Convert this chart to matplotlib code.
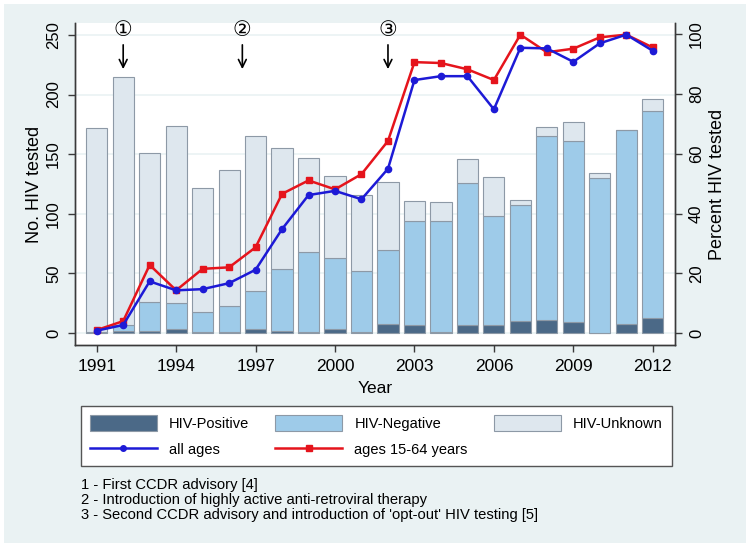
import matplotlib
matplotlib.use("Agg")
import matplotlib.pyplot as plt
from matplotlib.patches import Rectangle, Patch
from matplotlib.lines import Line2D

plt.rcParams['font.family'] = ['Liberation Sans', 'DejaVu Sans']

years = list(range(1991, 2013))
hiv_positive = [1, 2, 2, 3, 1, 1, 3, 2, 1, 3, 1, 8, 7, 1, 7, 7, 10, 11, 9, 0, 8, 13]
hiv_negative = [0, 5, 24, 22, 17, 22, 32, 52, 67, 60, 51, 62, 87, 93, 119, 91, 97, 154, 152, 130, 162, 173]
hiv_unknown = [171, 208, 125, 149, 104, 114, 130, 101, 79, 69, 64, 57, 17, 16, 20, 33, 5, 8, 16, 4, 0, 10]
pct_all_ages = [0.8, 2.7, 17.3, 14.3, 14.7, 16.7, 21.2, 34.8, 46.2, 47.6, 44.8, 55.0,
                84.7, 86.0, 86.0, 74.9, 95.5, 95.3, 90.8, 97.0, 99.9, 94.5]
pct_15_64 = [1.0, 4.0, 22.8, 14.3, 21.5, 22.0, 28.7, 46.6, 51.1, 48.1, 53.2, 64.3,
             90.7, 90.4, 88.3, 84.7, 99.9, 94.0, 95.2, 99.0, 99.9, 95.6]
event_years = [1992, 1996.5, 2002]
event_marks = ['\u2460', '\u2461', '\u2462']
x_ticks = [1991, 1994, 1997, 2000, 2003, 2006, 2009, 2012]
left_ticks = [0, 50, 100, 150, 200, 250]
right_ticks = [0, 20, 40, 60, 80, 100]
notes = ["1 - First CCDR advisory [4]",
         "2 - Introduction of highly active anti-retroviral therapy",
         "3 - Second CCDR advisory and introduction of 'opt-out' HIV testing [5]"]

W, H = 751, 549
fig = plt.figure(figsize=(W / 100, H / 100), dpi=100, facecolor='white')
bg = '#eaf2f3'
fig.patches.append(Rectangle((4 / W, 6 / H), 742 / W, 539 / H, transform=fig.transFigure,
                             facecolor=bg, edgecolor='none', zorder=-10))

ax = fig.add_axes([75 / W, 1 - 345 / H, 600 / W, 322 / H])
ax.set_facecolor('white')
c_pos, c_neg, c_unk = '#4b6987', '#9ecbe9', '#dee7ee'
edge = '#8d99a6'
bw = 0.8
neg_bottom = hiv_positive
unk_bottom = [p + n for p, n in zip(hiv_positive, hiv_negative)]
ax.bar(years, hiv_positive, width=bw, color=c_pos, edgecolor=edge, linewidth=0.8, zorder=2)
ax.bar(years, hiv_negative, bottom=neg_bottom, width=bw, color=c_neg, edgecolor=edge, linewidth=0.8, zorder=2)
ax.bar(years, hiv_unknown, bottom=unk_bottom, width=bw, color=c_unk, edgecolor=edge, linewidth=0.8, zorder=2)

ax.set_xlim(1990.18, 2012.84)
ax.set_ylim(-10, 260)
ax.set_xticks(x_ticks)
ax.set_yticks(left_ticks)
ax.grid(axis='y', color=bg, linewidth=1.2, zorder=0)
ax.set_axisbelow(True)
ax.spines['top'].set_visible(False)
for s in ['left', 'bottom', 'right']:
    ax.spines[s].set_color('#3a3a3a')
    ax.spines[s].set_linewidth(1.0)
ax.tick_params(axis='x', direction='out', length=5, width=1, color='#3a3a3a', labelsize=12.5, pad=5)
ax.tick_params(axis='y', direction='out', length=5, width=1, color='#3a3a3a', labelsize=12, pad=5)
for lab in ax.get_yticklabels():
    lab.set_rotation(90)
    lab.set_va('center')
ax.set_ylabel('No. HIV tested', fontsize=13, labelpad=2)
ax.set_xlabel('Year', fontsize=12.5, labelpad=5)

for ex, em in zip(event_years, event_marks):
    ax.text(ex, 254, em, ha='center', va='center', fontsize=15,
            family=['DejaVu Sans', 'Noto Sans CJK SC'], clip_on=False, zorder=5)
    ax.annotate('', xy=(ex, 219), xytext=(ex, 244),
                arrowprops=dict(arrowstyle='->', color='black', lw=1.2, mutation_scale=14),
                zorder=5)

ax2 = ax.twinx()
ax2.set_ylim(-4, 103.8)
ax2.set_yticks(right_ticks)
ax2.spines['top'].set_visible(False)
for s in ['left', 'bottom', 'right']:
    ax2.spines[s].set_color('#3a3a3a')
    ax2.spines[s].set_linewidth(1.0)
ax2.tick_params(axis='y', direction='out', length=5, width=1, color='#3a3a3a', labelsize=12, pad=5)
for lab in ax2.get_yticklabels():
    lab.set_rotation(90)
    lab.set_va('center')
ax2.set_ylabel('Percent HIV tested', fontsize=13, labelpad=4)
blue, red = '#1d1ad6', '#e5141c'
ax2.plot(years, pct_all_ages, color=blue, lw=1.8, marker='o', ms=4.5, zorder=4)
ax2.plot(years, pct_15_64, color=red, lw=1.8, marker='s', ms=4.5, zorder=3)

handles = [Patch(facecolor=c_pos, edgecolor=edge, linewidth=0.8),
           Line2D([], [], color=blue, lw=1.8, marker='o', ms=4),
           Patch(facecolor=c_neg, edgecolor=edge, linewidth=0.8),
           Line2D([], [], color=red, lw=1.8, marker='s', ms=4),
           Patch(facecolor=c_unk, edgecolor=edge, linewidth=0.8)]
labels = ['HIV-Positive', 'all ages', 'HIV-Negative', 'ages 15-64 years', 'HIV-Unknown']
leg = fig.legend(handles, labels, ncol=3, loc='upper left',
                 bbox_to_anchor=(81 / W, 1 - 406 / H), borderaxespad=0,
                 fontsize=10.5, handlelength=4.6, handleheight=1.3, handletextpad=0.82,
                 columnspacing=1.8, borderpad=0.6, labelspacing=0.75, numpoints=1,
                 fancybox=False, framealpha=1, edgecolor='#555555')
leg.get_frame().set_linewidth(1.0)

for i, t in enumerate(notes):
    fig.text(81 / W, 1 - (485 + 15 * i) / H, t, fontsize=10.6, va='center', ha='left')

fig.savefig('out.png', dpi=100, facecolor='white')
